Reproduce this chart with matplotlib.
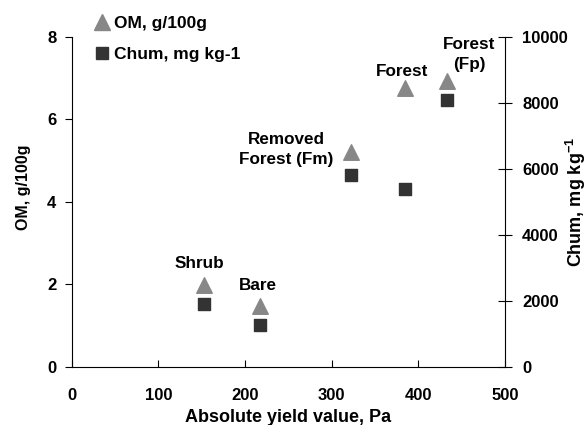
import matplotlib.pyplot as plt
from matplotlib.lines import Line2D

plt.rcParams['font.family'] = ['Liberation Sans', 'DejaVu Sans']
plt.rcParams['font.weight'] = 'bold'
plt.rcParams['mathtext.fontset'] = 'custom'
plt.rcParams['mathtext.rm'] = 'Liberation Sans:bold'
plt.rcParams['mathtext.bf'] = 'Liberation Sans:bold'
plt.rcParams['mathtext.default'] = 'bf'

# site data
sites = ['Shrub', 'Bare', 'Removed\nForest (Fm)', 'Forest', 'Forest\n(Fp)']
yield_pa = [153, 218, 322, 385, 433]
om = [1.98, 1.47, 5.22, 6.76, 6.92]
chum = [1890, 1265, 5800, 5380, 8090]

# label anchors (x in Pa, y in OM units)
label_x = [148, 215, 248, 381, 459]
label_y = [2.51, 1.96, 5.27, 7.16, 7.57]

x_ticks = [0, 100, 200, 300, 400, 500]
om_ticks = [0, 2, 4, 6, 8]
chum_ticks = [0, 2000, 4000, 6000, 8000, 10000]

tri_color = '#878787'
sq_color = '#333333'

fig = plt.figure(figsize=(5.87, 4.25), dpi=100)
ax = fig.add_axes([0.122, 0.137, 0.738, 0.776])
ax2 = ax.twinx()

ax.scatter(yield_pa, om, marker='^', s=125, color=tri_color, zorder=3, clip_on=False)
ax2.scatter(yield_pa, chum, marker='s', s=70, color=sq_color, zorder=3, clip_on=False)

ax.set_xlim(0, 500)
ax.set_ylim(0, 8)
ax2.set_ylim(0, 10000)
ax.set_xticks(x_ticks)
ax.set_yticks(om_ticks)
ax2.set_yticks(chum_ticks)

for a in (ax, ax2):
    a.spines['top'].set_visible(False)
    for s in a.spines.values():
        s.set_linewidth(0.8)
ax.spines['right'].set_visible(False)
ax2.spines['left'].set_visible(False)
ax2.spines['bottom'].set_visible(False)

ax.tick_params(axis='x', direction='in', length=5, width=0.8, labelsize=12, pad=15)
ax.tick_params(axis='y', direction='out', length=5, width=0.8, labelsize=12, pad=6)
ax2.tick_params(axis='y', direction='inout', length=10, width=0.8, labelsize=12, pad=7.5)

ax.set_xlabel('Absolute yield value, Pa', fontsize=13, fontweight='bold',
              va='center')
ax.xaxis.set_label_coords(0.5, -0.155)
ax.set_ylabel('OM, g/100g', fontsize=11.5, fontweight='bold',
              ha='center', va='center', rotation_mode='default')
ax.yaxis.set_label_coords(-0.112, 0.545)
ax2.set_ylabel('Chum, mg kg$^{-1}$', fontsize=13, fontweight='bold',
               ha='center', va='center', rotation_mode='default')
ax2.yaxis.set_label_coords(1.165, 0.5)

for name, lx, ly in zip(sites, label_x, label_y):
    ax.text(lx, ly, name, ha='center', va='center', fontsize=12.3,
            fontweight='bold', linespacing=1.4, zorder=4)

handles = [
    Line2D([], [], marker='^', linestyle='none', color=tri_color, markersize=11),
    Line2D([], [], marker='s', linestyle='none', color=sq_color, markersize=8.4),
]
fig.legend(handles, ['OM, g/100g', 'Chum, mg kg-1'], loc='upper left',
           bbox_to_anchor=(0.135, 1.0), frameon=False,
           handlelength=0.8, handletextpad=0.3, labelspacing=0.95,
           prop={'weight': 'bold', 'size': 12.5})

fig.savefig('out.png', dpi=100)
